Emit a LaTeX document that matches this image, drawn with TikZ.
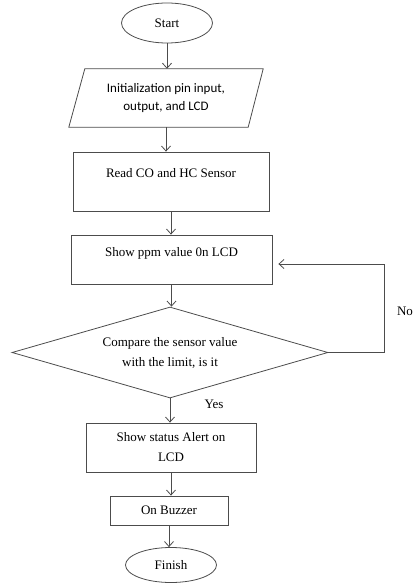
\documentclass[tikz,border=0pt]{standalone}
\usepackage{fontspec}
\setmainfont{Liberation Serif}
\newfontfamily\calibrifont{Carlito}
\usetikzlibrary{shapes.geometric,arrows.meta}

\tikzset{
    base/.style={draw=black!70, line width=0.8pt, font=\fontsize{13}{20}\selectfont, inner sep=0pt},
    terminal/.style={base, ellipse, minimum width=91, minimum height=40},
    process/.style={base, rectangle, align=center},
    decision/.style={base, diamond, aspect=3.4, align=center},
    flow/.style={draw=black!70, line width=0.8pt, -{Straight Barb[length=5pt,width=9pt]}},
}

\begin{document}
\begin{tikzpicture}[x=1pt,y=-1pt]
    \useasboundingbox (0,0) rectangle (414,583);
    \node[terminal] (start) at (167,23) {Start};
    \node[font=\calibrifont\fontsize{13}{18}\selectfont, align=center, minimum width=194, minimum height=58, inner sep=0pt] (init) at (166,98) {Initialization pin input,\\output, and LCD};
    \draw[base] ([xshift=16]init.north west) -- (init.north east) -- ([xshift=-15]init.south east) -- (init.south west) -- cycle;
    \node[process, minimum width=196, minimum height=59.5, text height=9, text depth=18] (read) at (171,181.75) {Read CO and HC Sensor};
    \node[process, minimum width=201, minimum height=49, text height=9, text depth=15.4] (show) at (171.5,259.5) {Show ppm value 0n LCD};
    \node[decision, minimum width=316, minimum height=91] (dec) at (170,352.5) {Compare the sensor value\\with the limit, is it};
    \node[process, minimum width=170, minimum height=49] (alert) at (171,447.5) {Show status Alert on\\LCD};
    \node[process, minimum width=118, minimum height=29] (buzz) at (169,510.5) {On Buzzer};
    \node[terminal, minimum height=35] (finish) at (171,565) {Finish};
    \node[font=\fontsize{13}{20}\selectfont] (no) at (405,311) {No};
    \node[font=\fontsize{13}{20}\selectfont] (yes) at (214,404) {Yes};
    \foreach \a/\b in {start/init, init/read, read/show, show/dec, dec/alert, alert/buzz, buzz/finish} {
        \draw[flow] (\a.south) -- (\a.south |- \b.north);
    }
    \coordinate (back) at (384,264);
    \draw[flow] (dec.east) -| (back) -- ([xshift=6]show.east |- back);
\end{tikzpicture}
\end{document}
